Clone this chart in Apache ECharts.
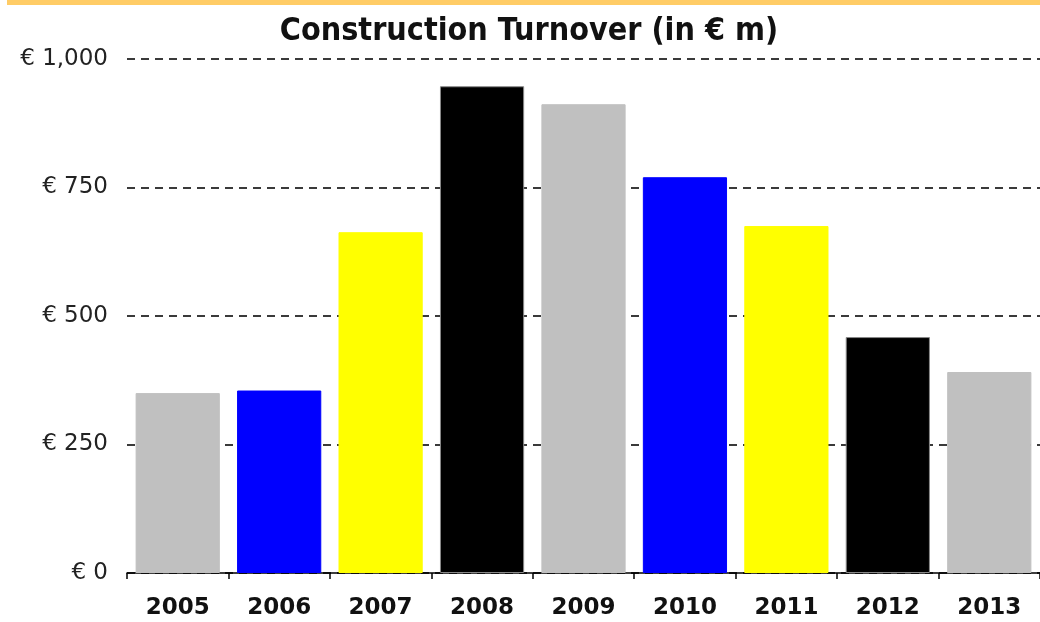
<!DOCTYPE html>
<html>
<head>
<meta charset="utf-8">
<script src="https://cdn.jsdelivr.net/npm/echarts@6/dist/echarts.min.js"></script>
<style>
  html, body { margin: 0; padding: 0; background: #fff; }
  #topbar { position: absolute; left: 7px; right: 0; top: 0; height: 5px; background: #ffcc66; }
  #chart { width: 1040px; height: 622px; }
</style>
</head>
<body>
<div id="topbar"></div>
<div id="chart"></div>
<script>
var years = ['2005', '2006', '2007', '2008', '2009', '2010', '2011', '2012', '2013'];
var turnover = [350, 355, 663, 947, 912, 770, 675, 459, 391];
var barColors = ['#c0c0c0', '#0000ff', '#ffff00', '#000000', '#c0c0c0', '#0000ff', '#ffff00', '#000000', '#c0c0c0'];

var chart = echarts.init(document.getElementById('chart'));

var option = {
    animation: false,
    title: {
        text: 'Construction Turnover (in € m)',
        left: 524,
        textAlign: 'center',
        top: 11,
        textStyle: {
            fontFamily: 'DejaVu Sans Condensed',
            fontWeight: 'bold',
            fontSize: 32,
            color: '#111'
        }
    },
    grid: {
        left: 127,
        right: 0,
        top: 59,
        bottom: 49
    },
    xAxis: {
        type: 'category',
        data: years,
        axisLine: { lineStyle: { color: '#000', width: 1.5 } },
        axisTick: { show: true, length: 6, lineStyle: { color: '#000', width: 1.5 } },
        axisLabel: {
            margin: 24,
            fontFamily: 'DejaVu Sans',
            fontWeight: 'bold',
            fontSize: 23,
            color: '#111'
        }
    },
    yAxis: {
        type: 'value',
        min: 0,
        max: 1000,
        interval: 250,
        axisLine: { show: false },
        axisTick: { show: false },
        axisLabel: {
            margin: 19,
            fontFamily: 'DejaVu Sans',
            fontSize: 23,
            color: '#222',
            formatter: function (v) {
                return '€ ' + v.toLocaleString('en-US');
            }
        },
        splitLine: {
            lineStyle: { color: '#3a3a3a', type: [8, 6], width: 2 }
        }
    },
    series: [{
        type: 'bar',
        barCategoryGap: '17%',
        data: turnover.map(function (v, i) {
            return {
                value: v,
                itemStyle: {
                    color: barColors[i],
                    borderColor: i === 3 || i === 7 ? '#888' : barColors[i],
                    borderWidth: 1
                }
            };
        })
    }]
};

chart.setOption(option);
</script>
</body>
</html>
